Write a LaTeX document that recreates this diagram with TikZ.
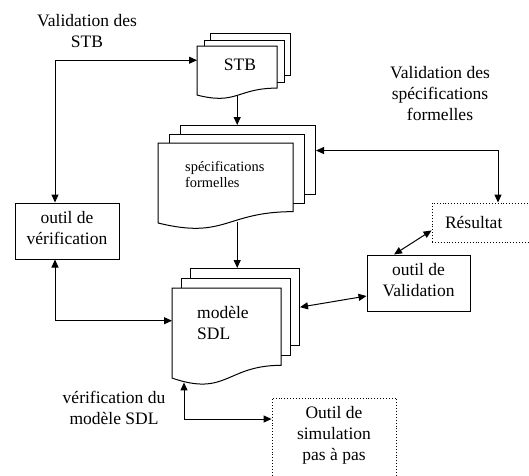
\documentclass[tikz,border=0pt]{standalone}
\usepackage{fontspec}
\setmainfont{Liberation Serif}
\usetikzlibrary{arrows.meta,calc}

\tikzset{
  sheet/.style={draw, fill=white, line width=1pt, inner sep=0pt},
  toolbox/.style={draw, line width=1pt, minimum width=103pt, minimum height=56pt,
                  align=center, inner sep=0pt, text depth=7pt, bigtext},
  dotbox/.style={draw, dotted, line width=0.9pt, inner sep=0pt},
  link/.style={line width=1pt},
  tip/.tip={Triangle[length=8pt,width=7pt]},
  arr/.style={link, -tip},
  dbl/.style={link, tip-tip},
  bigtext/.style={font=\fontsize{17.5}{21}\selectfont},
  smalltext/.style={font=\fontsize{14.4}{15.6}\selectfont},
}

% Stack of three documents: front sheet with a wavy bottom, two sheets behind.
% #1 name, #2 left, #3 top, #4 right, #5 height, #6 dx, #7 dy
\newcommand\docstack[7]{%
  \pgfmathsetmacro\dsW{#4-#2}%
  \pgfmathsetmacro\dsR{0.802*#5}%
  \pgfmathsetmacro\dsL{0.934*#5}%
  \foreach \k/\m in {3/2,2/1}{%
    \node[sheet, minimum width=\dsW pt, minimum height=\dsR pt, anchor=north west]
      (#1-\k) at ({#2+\m*#6},{#3-\m*#7}) {};
  }%
  \draw[sheet] (#2,#3) -- (#4,#3) -- (#4,{#3+\dsR})
    .. controls ({(#2+#4)/2},{#3+\dsR}) and ({(#2+#4)/2},{#3+1.13*#5}) ..
    (#2,{#3+\dsL}) -- cycle;
  \node[inner sep=0pt, minimum width=\dsW pt, minimum height=\dsL pt, anchor=north west]
    (#1) at (#2,#3) {};
}

\begin{document}
\begin{tikzpicture}[x=1pt,y=-1pt]
  \path[use as bounding box] (0,0) rectangle (529,475);
  \clip (0,0) rectangle (529,475);

  % document stacks
  \docstack{stb}{197}{46}{277}{52.5}{6.5}{6.5}
  \node[bigtext] (stbtext) at (240,65) {STB};

  \docstack{specs}{158}{143}{293}{85.6}{11}{9}
  \node[smalltext, align=left, anchor=west, inner sep=0pt] (specstext) at (185,174.6)
    {spécifications\\formelles};

  \docstack{sdl}{172}{288}{281}{96.4}{9}{10}
  \node[bigtext, align=left, anchor=west, inner sep=0pt] (sdltext) at (197,323)
    {modèle\\SDL};

  % tools
  \node[toolbox, minimum width=104pt] (verif) at (67,231) {outil de\\vérification};
  \node[toolbox] (valid) at (418.5,283) {outil de\\Validation};

  % results
  \node[dotbox, bigtext, text width=82pt, inner xsep=13pt, minimum height=39pt, align=left]
    (res) at (486,222.5) {Résultat};
  \node[dotbox, minimum width=124pt, minimum height=90pt] (sim) at (334,443) {};
  \node[bigtext, align=center] (simtext) at (334,435) {Outil de\\simulation\\pas à pas};

  % labels
  \node[bigtext, align=center] (lblstb) at (87,31.5) {Validation des\\STB};
  \node[bigtext, align=center] (lblspecs) at (440,94) {Validation des\\spécifications\\formelles};
  \node[bigtext, align=center] (lblsdl) at (114,408) {vérification du\\modèle SDL};

  % connectors
  \draw[dbl] ([yshift=10.5pt]stb.west) -| ([xshift=-12pt]verif.north);
  \draw[arr] (stb.south) -- (stb.south |- specs-3.north);
  \draw[dbl] ([yshift=9.3pt]specs-3.east) -| ([xshift=12pt]res.north);
  \coordinate (specsout) at ([xshift=11.5pt,yshift=1pt]specs.south);
  \draw[arr] (specsout) -- (specsout |- sdl-3.north);
  \draw[dbl] ([xshift=-12pt]verif.south) |- ([yshift=12.5pt]sdl.west);
  \draw[dbl] (sdl-3.east) -- ([yshift=-13pt]valid.west);
  \draw[dbl] ([yshift=12pt]res.south west) -- ([xshift=-24.5pt]valid.north);
  \draw[dbl] ([xshift=12pt,yshift=-4pt]sdl.south west) |- ([yshift=24pt]sim.west);
\end{tikzpicture}
\end{document}
